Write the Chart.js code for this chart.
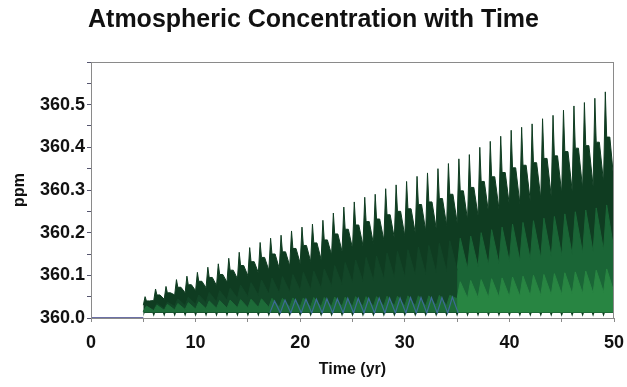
<!DOCTYPE html>
<html>
<head>
<meta charset="utf-8">
<script src="https://cdn.jsdelivr.net/npm/chart.js@4.4.1/dist/chart.umd.min.js"></script>
<style>
  html, body { margin: 0; padding: 0; background: #fff; }
  #wrap { width: 627px; height: 387px; }
</style>
</head>
<body>
<div id="wrap"><canvas id="grafico"></canvas></div>
<script>
// Un ciclo por año, desde el año 5 hasta el 49
const primerAnio = 5;

// Picos oscuros (ppm)
const picoOscuro = [360.050, 360.068, 360.074, 360.090, 360.098, 360.107, 360.119, 360.127, 360.140, 360.154,
  360.165, 360.177, 360.187, 360.194, 360.204, 360.213, 360.220, 360.229, 360.246, 360.260,
  360.272, 360.283, 360.290, 360.303, 360.312, 360.320, 360.332, 360.340, 360.350, 360.362,
  360.373, 360.383, 360.400, 360.414, 360.426, 360.440, 360.447, 360.455, 360.467, 360.475,
  360.487, 360.497, 360.505, 360.515, 360.530];
const hombroOscuro = [360.040, 360.054, 360.059, 360.072, 360.078, 360.086, 360.095, 360.102, 360.112, 360.123,
  360.132, 360.142, 360.150, 360.155, 360.163, 360.170, 360.176, 360.183, 360.197, 360.208,
  360.218, 360.226, 360.232, 360.242, 360.250, 360.256, 360.266, 360.272, 360.280, 360.290,
  360.298, 360.306, 360.320, 360.331, 360.341, 360.352, 360.358, 360.364, 360.374, 360.380,
  360.390, 360.398, 360.404, 360.412, 360.424];
const valleOscuro = [360.030, 360.041, 360.044, 360.054, 360.059, 360.064, 360.071, 360.076, 360.084, 360.092,
  360.099, 360.106, 360.112, 360.116, 360.122, 360.128, 360.132, 360.137, 360.148, 360.156,
  360.163, 360.170, 360.174, 360.182, 360.187, 360.192, 360.199, 360.204, 360.210, 360.217,
  360.224, 360.230, 360.240, 360.248, 360.256, 360.264, 360.268, 360.273, 360.280, 360.285,
  360.292, 360.298, 360.303, 360.309, 360.318];

// Banda media
const picoMedio = [360.025, 360.034, 360.037, 360.045, 360.049, 360.054, 360.060, 360.064, 360.070, 360.077,
  360.083, 360.089, 360.094, 360.097, 360.102, 360.107, 360.110, 360.115, 360.123, 360.130,
  360.136, 360.142, 360.145, 360.152, 360.156, 360.160, 360.166, 360.170, 360.175, 360.181,
  360.187, 360.192, 360.200, 360.207, 360.213, 360.220, 360.224, 360.228, 360.234, 360.238,
  360.244, 360.249, 360.253, 360.258, 360.265];
const valleMedio = [360.015, 360.020, 360.022, 360.027, 360.029, 360.032, 360.036, 360.038, 360.042, 360.046,
  360.050, 360.053, 360.056, 360.058, 360.061, 360.064, 360.066, 360.069, 360.074, 360.078,
  360.082, 360.085, 360.087, 360.091, 360.094, 360.096, 360.100, 360.102, 360.105, 360.109,
  360.112, 360.115, 360.120, 360.124, 360.128, 360.132, 360.134, 360.137, 360.140, 360.143,
  360.146, 360.149, 360.152, 360.155, 360.159];

// Banda clara inferior
const picoClaro = [360.028, 360.030, 360.032, 360.034, 360.036, 360.038, 360.040, 360.041, 360.042, 360.043,
  360.044, 360.045, 360.046, 360.046, 360.047, 360.047, 360.048, 360.048, 360.049, 360.049,
  360.050, 360.050, 360.050, 360.051, 360.051, 360.052, 360.052, 360.052, 360.053, 360.053,
  360.085, 360.088, 360.090, 360.092, 360.094, 360.096, 360.098, 360.100, 360.102, 360.104,
  360.106, 360.108, 360.110, 360.112, 360.115];
const valleClaro = [360.016, 360.017, 360.018, 360.019, 360.020, 360.021, 360.022, 360.023, 360.023, 360.024,
  360.024, 360.025, 360.025, 360.025, 360.026, 360.026, 360.026, 360.026, 360.027, 360.027,
  360.027, 360.027, 360.027, 360.028, 360.028, 360.028, 360.028, 360.028, 360.029, 360.029,
  360.045, 360.046, 360.047, 360.048, 360.049, 360.050, 360.051, 360.052, 360.053, 360.054,
  360.055, 360.056, 360.057, 360.058, 360.060];

// Línea azul (años 17 a 34)
const primerAnioAzul = 17;
const picoAzul = [360.040, 360.042, 360.043, 360.044, 360.044, 360.045, 360.045, 360.046, 360.046,
  360.046, 360.047, 360.047, 360.047, 360.048, 360.048, 360.048, 360.048, 360.049];
const valleAzul = 360.012;

// Fondo (huecos blancos sobre 360.0)
const fondoCaida = 360.003;
const fondoNivel = 360.012;

// Línea base antes del año 5
const baseX = [0, 5];
const baseY = [360.0, 360.0];

const marcasY = [360.0, 360.1, 360.2, 360.3, 360.4, 360.5];
const marcasX = [0, 10, 20, 30, 40, 50];

function serieOscura() {
    const pts = [];
    valleOscuro.forEach((v, i) => {
        const x = primerAnio + i;
        pts.push({ x: x, y: v }, { x: x + 0.17, y: picoOscuro[i] },
                 { x: x + 0.3, y: hombroOscuro[i] }, { x: x + 0.6, y: hombroOscuro[i] });
    });
    pts.push({ x: 50, y: valleOscuro[valleOscuro.length - 1] });
    return pts;
}

function serieDientes(valles, picos, desde, hasta) {
    const pts = [];
    for (let i = desde; i < hasta; i++) {
        const x = primerAnio + i;
        pts.push({ x: x, y: valles[i] }, { x: x + 0.3, y: picos[i] });
    }
    const xf = primerAnio + hasta;
    pts.push({ x: xf, y: hasta < valles.length ? valles[hasta] : valles[valles.length - 1] });
    return pts;
}

function serieFondo() {
    const pts = [];
    picoOscuro.forEach((_, i) => {
        const x = primerAnio + i;
        pts.push({ x: x, y: fondoCaida }, { x: x + 0.12, y: fondoNivel }, { x: x + 0.88, y: fondoNivel });
    });
    pts.push({ x: 50, y: fondoNivel });
    return pts;
}

function serieAzul() {
    const pts = [];
    picoAzul.forEach((p, i) => {
        const x = primerAnioAzul + i;
        pts.push({ x: x + 0.1, y: valleAzul }, { x: x + 0.55, y: p });
    });
    pts.push({ x: primerAnioAzul + picoAzul.length + 0.1, y: valleAzul });
    return pts;
}

// Marco alrededor del área del gráfico
const marco = {
    id: 'marco',
    afterDraw(chart) {
        const { ctx, chartArea: a } = chart;
        ctx.save();
        ctx.strokeStyle = '#8a8a8a';
        ctx.lineWidth = 1;
        ctx.strokeRect(a.left + 0.5, a.top + 0.5, a.right - a.left - 1, a.bottom - a.top);
        ctx.restore();
    }
};

const relleno = (color, orden, fill, data) => ({
    data: data, backgroundColor: color, borderColor: color, borderWidth: 1,
    fill: fill, order: orden, pointRadius: 0, tension: 0
});

new Chart(document.getElementById('grafico'), {
    type: 'line',
    data: {
        datasets: [
            { data: serieFondo(), borderWidth: 0, borderColor: 'rgba(0,0,0,0)', pointRadius: 0, fill: false, order: 9 },
            relleno('#0f3c21', 8, 0, serieOscura()),
            relleno('#134628', 7, { value: 360.013 }, serieDientes(valleMedio, picoMedio, 0, 30)),
            relleno('#1a6536', 7, { value: 360.013 }, serieDientes(valleMedio, picoMedio, 30, 45)),
            relleno('#1d6b38', 6, { value: 360.013 }, serieDientes(valleClaro, picoClaro, 0, 30)),
            relleno('#288542', 6, { value: 360.013 }, serieDientes(valleClaro, picoClaro, 30, 45)),
            { data: serieAzul(), borderColor: '#3d6a96', borderWidth: 1.2, pointRadius: 0, fill: false, order: 2 },
            { data: baseX.map((x, i) => ({ x: x, y: baseY[i] })), borderColor: '#6c70a6', borderWidth: 2,
              pointRadius: 0, fill: false, order: 1 }
        ]
    },
    options: {
        responsive: true,
        maintainAspectRatio: false,
        animation: false,
        layout: { padding: 0 },
        plugins: {
            legend: { display: false },
            tooltip: { enabled: false },
            title: {
                display: true,
                text: 'Atmospheric Concentration with Time',
                color: '#111',
                font: { family: 'Liberation Sans', size: 25, weight: 'bold' },
                padding: { top: 5, bottom: 27 }
            }
        },
        scales: {
            x: {
                type: 'linear', min: 0, max: 50,
                afterFit: s => { s.height = 69; s.paddingRight = 13; },
                border: { color: '#8a8a8a' },
                grid: { drawOnChartArea: false, drawTicks: true, tickLength: 4, color: '#8a8a8a' },
                ticks: {
                    stepSize: 5, autoSkip: false, maxRotation: 0, padding: 10, color: '#111',
                    font: { family: 'Liberation Sans', size: 18, weight: 'bold' },
                    callback: v => marcasX.includes(v) ? String(v) : ''
                },
                title: {
                    display: true, text: 'Time (yr)', color: '#111',
                    font: { family: 'Liberation Sans', size: 16, weight: 'bold' },
                    padding: { top: 0, bottom: 8 }
                }
            },
            y: {
                type: 'linear', min: 360.0, max: 360.6,
                afterFit: s => { s.width = 91; },
                border: { color: '#55556e' },
                grid: { drawOnChartArea: false, drawTicks: true, tickLength: 4, color: '#55556e' },
                ticks: {
                    stepSize: 0.05, autoSkip: false, padding: 2, color: '#111',
                    font: { family: 'Liberation Sans', size: 18, weight: 'bold' },
                    callback: v => {
                        const m = marcasY.find(t => Math.abs(t - v) < 0.001);
                        return m !== undefined ? m.toFixed(1) : '';
                    }
                },
                title: {
                    display: true, text: 'ppm', color: '#111',
                    font: { family: 'Liberation Sans', size: 16, weight: 'bold' },
                    padding: { top: 10, bottom: 0 }
                }
            }
        }
    },
    plugins: [marco]
});
</script>
</body>
</html>
